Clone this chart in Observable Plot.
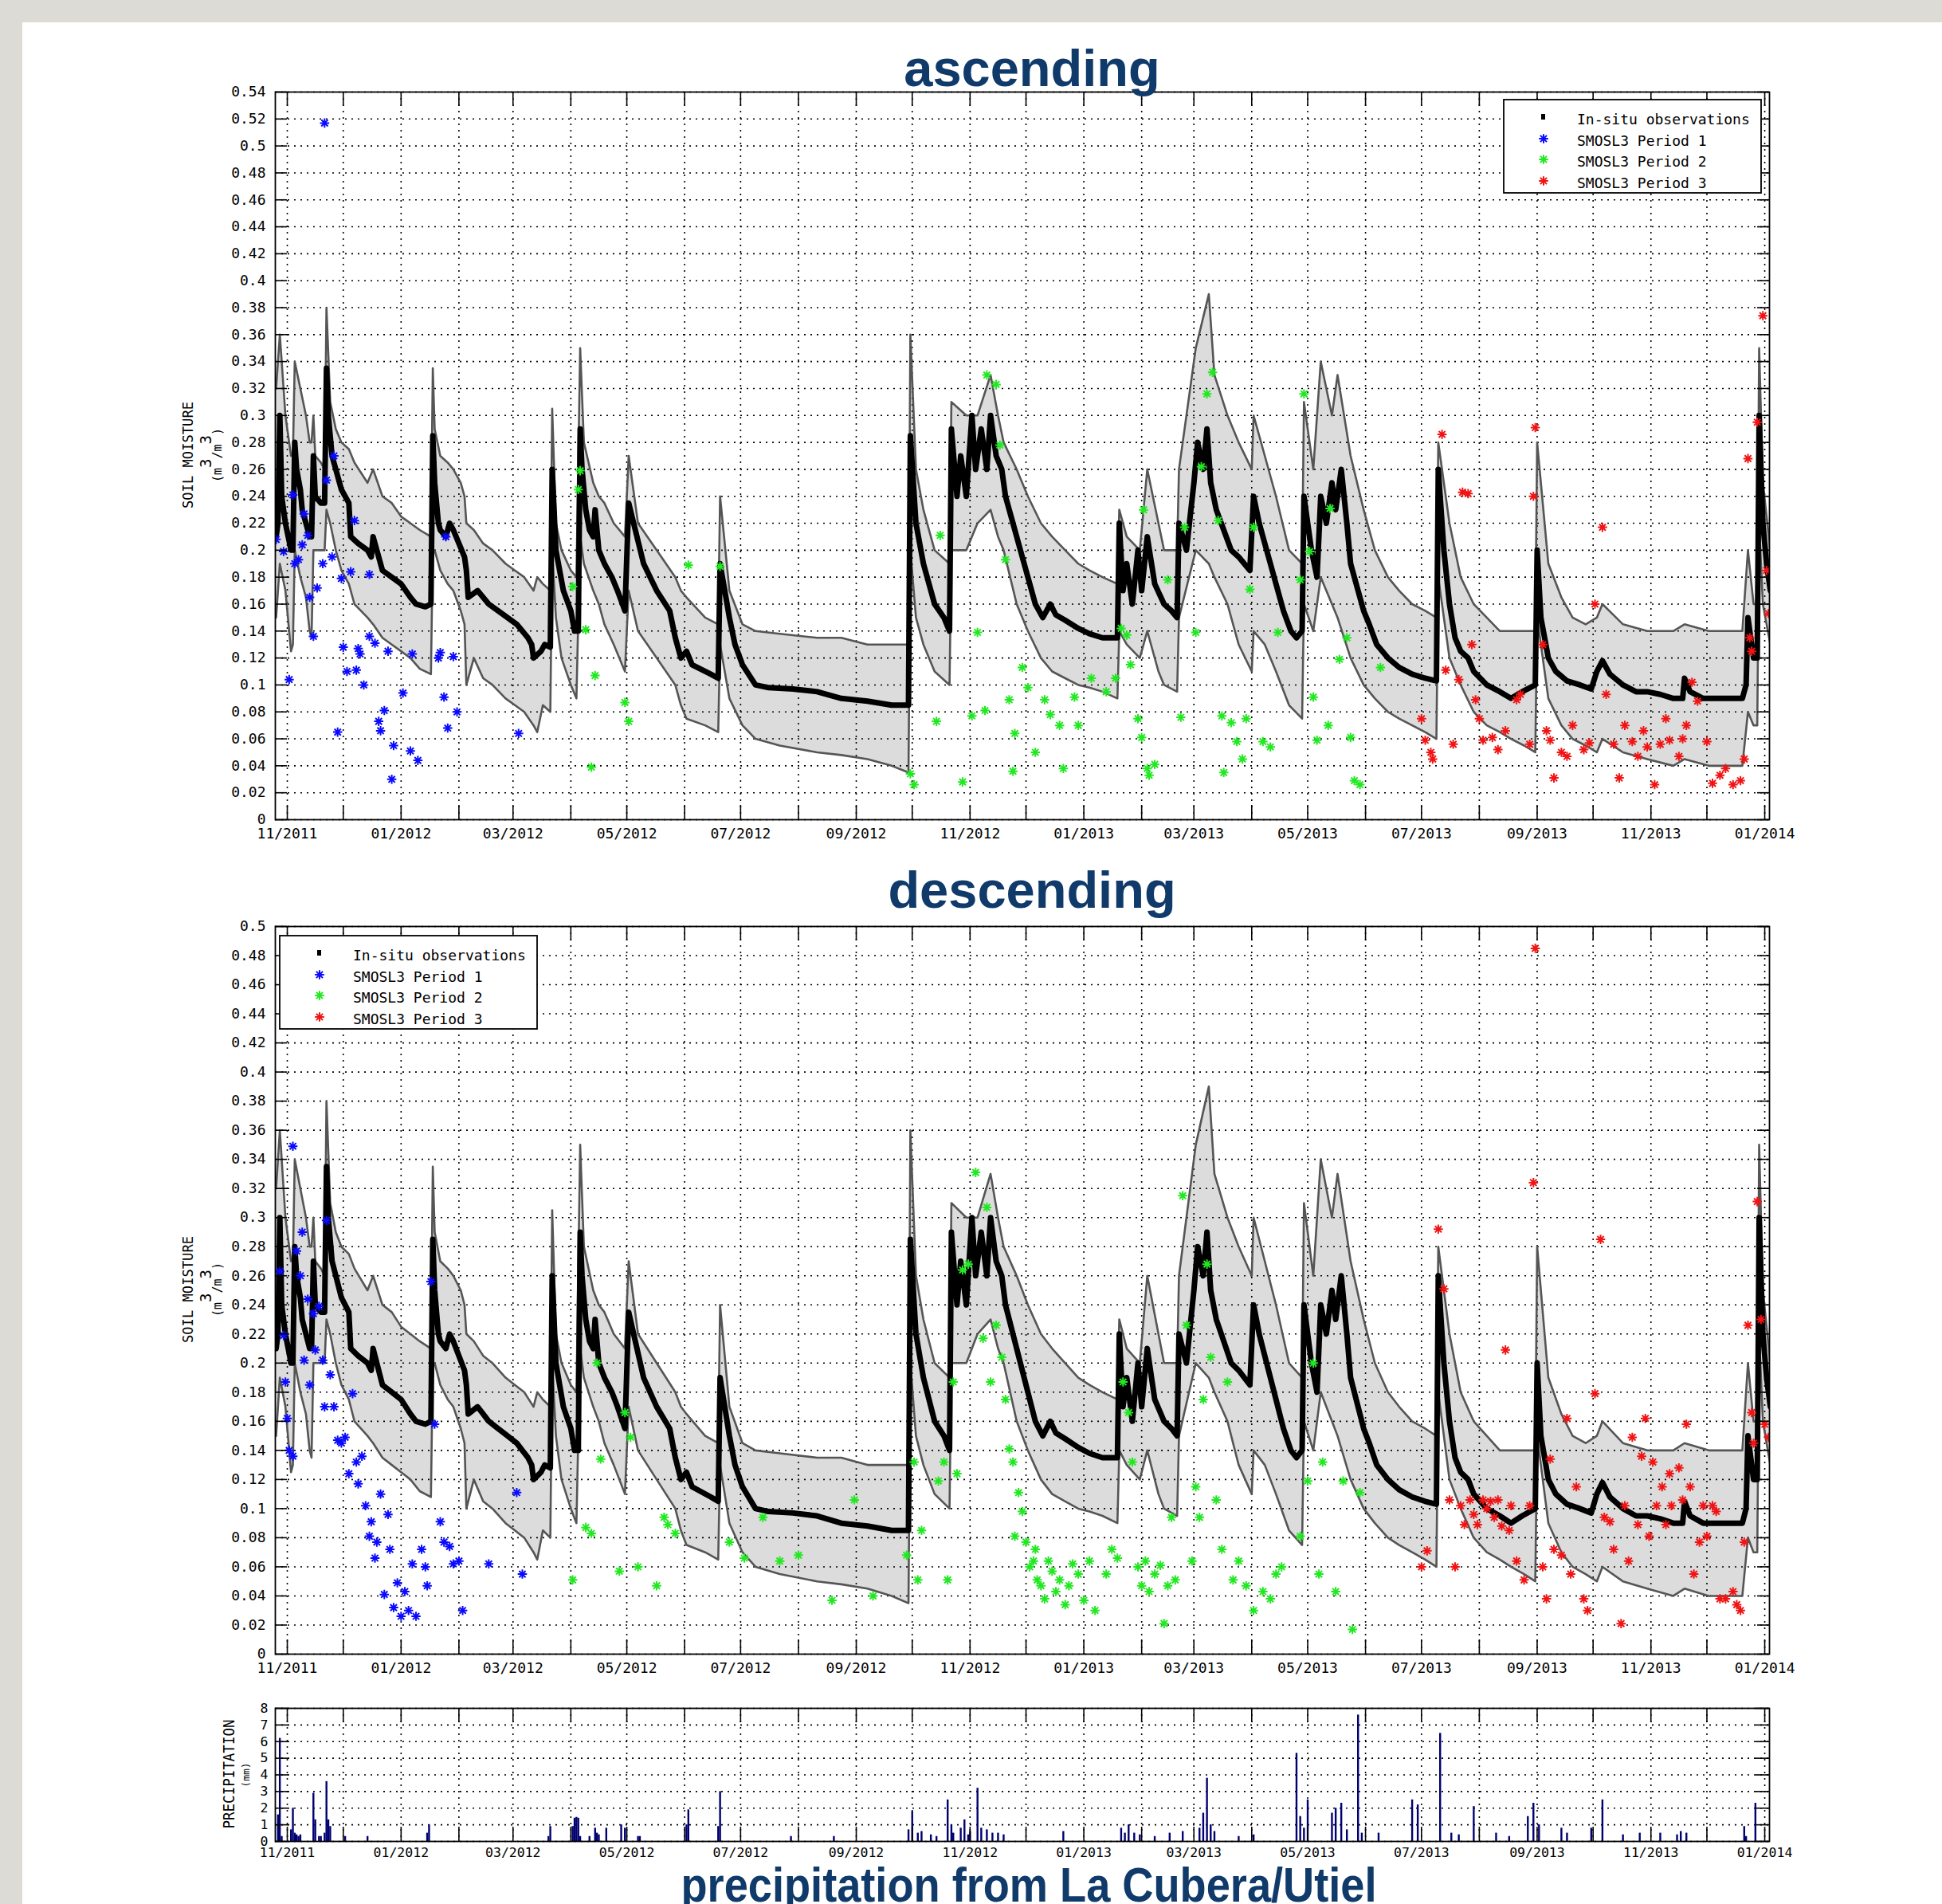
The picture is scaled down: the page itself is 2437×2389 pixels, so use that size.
<!DOCTYPE html>
<html><head><meta charset="utf-8">
<script src="https://cdn.jsdelivr.net/npm/d3@7"></script>
<script src="https://cdn.jsdelivr.net/npm/@observablehq/plot@0.6"></script>
<style>
html,body{margin:0;padding:0;background:#fff;overflow:hidden;}
#page{position:relative;width:2437px;height:2389px;background:#dcdbd6;overflow:hidden;}
#panel{position:absolute;left:28px;top:28px;right:0;bottom:0;background:#fff;}
#page svg{position:absolute;left:0;}
</style></head><body>
<div id="page"><div id="panel"></div></div>
<script>
// ---------------- DATA ----------------
const panelTitles = ["ascending", "descending", "precipitation from La Cubera/Utiel"];
const legendLabels = ["In-situ observations", "SMOSL3 Period 1", "SMOSL3 Period 2", "SMOSL3 Period 3"];
const yTitle = "SOIL MOISTURE", yUnits = ["(m", "3", "/m", "3", ")"];
const pTitle = "PRECIPITATION", pUnits = "(mm)";

const monthTicks = ["2011-11-01","2011-12-01","2012-01-01","2012-02-01","2012-03-01","2012-04-01","2012-05-01","2012-06-01","2012-07-01","2012-08-01","2012-09-01","2012-10-01","2012-11-01","2012-12-01","2013-01-01","2013-02-01","2013-03-01","2013-04-01","2013-05-01","2013-06-01","2013-07-01","2013-08-01","2013-09-01","2013-10-01","2013-11-01","2013-12-01","2014-01-01"];
const labelTicks = ["2011-11-01","2012-01-01","2012-03-01","2012-05-01","2012-07-01","2012-09-01","2012-11-01","2013-01-01","2013-03-01","2013-05-01","2013-07-01","2013-09-01","2013-11-01","2014-01-01"];
const yTicksAsc = [0,0.02,0.04,0.06,0.08,0.1,0.12,0.14,0.16,0.18,0.2,0.22,0.24,0.26,0.28,0.3,0.32,0.34,0.36,0.38,0.4,0.42,0.44,0.46,0.48,0.5,0.52,0.54];
const yTicksDesc = [0,0.02,0.04,0.06,0.08,0.1,0.12,0.14,0.16,0.18,0.2,0.22,0.24,0.26,0.28,0.3,0.32,0.34,0.36,0.38,0.4,0.42,0.44,0.46,0.48,0.5];
const yTicksPrecip = [0,1,2,3,4,5,6,7,8];
const xDomain = ["2011-10-25T14:00Z", "2014-01-03T13:00Z"];

// in-situ observations [date, m3/m3]
const insitu = [
["2011-10-26",0.21],["2011-10-27",0.22],["2011-10-28",0.30],["2011-10-29",0.24],["2011-10-31",0.22],["2011-11-03",0.20],["2011-11-04",0.20],["2011-11-05",0.28],["2011-11-06",0.26],["2011-11-08",0.245],["2011-11-09",0.23],["2011-11-11",0.22],["2011-11-13",0.21],["2011-11-14",0.21],["2011-11-15",0.27],["2011-11-16",0.24],["2011-11-19",0.235],["2011-11-21",0.235],["2011-11-22",0.335],["2011-11-23",0.30],["2011-11-25",0.27],["2011-11-27",0.26],["2011-11-30",0.245],["2011-12-04",0.235],["2011-12-05",0.21],["2011-12-09",0.205],["2011-12-14",0.20],["2011-12-16",0.195],["2011-12-17",0.21],["2011-12-19",0.20],["2011-12-22",0.185],["2011-12-27",0.18],["2012-01-01",0.175],["2012-01-06",0.165],["2012-01-09",0.16],["2012-01-14",0.158],["2012-01-17",0.16],["2012-01-18",0.285],["2012-01-19",0.25],["2012-01-21",0.22],["2012-01-22",0.215],["2012-01-25",0.21],["2012-01-27",0.22],["2012-01-29",0.215],["2012-02-01",0.205],["2012-02-04",0.195],["2012-02-05",0.185],["2012-02-06",0.165],["2012-02-11",0.17],["2012-02-14",0.165],["2012-02-17",0.16],["2012-02-22",0.155],["2012-02-27",0.15],["2012-03-03",0.145],["2012-03-06",0.14],["2012-03-09",0.135],["2012-03-11",0.13],["2012-03-12",0.12],["2012-03-16",0.125],["2012-03-18",0.13],["2012-03-21",0.128],["2012-03-22",0.26],["2012-03-24",0.20],["2012-03-28",0.17],["2012-04-01",0.155],["2012-04-03",0.14],["2012-04-05",0.14],["2012-04-06",0.29],["2012-04-07",0.26],["2012-04-09",0.23],["2012-04-11",0.215],["2012-04-13",0.21],["2012-04-14",0.23],["2012-04-16",0.20],["2012-04-19",0.19],["2012-04-23",0.18],["2012-04-26",0.17],["2012-04-30",0.155],["2012-05-02",0.235],["2012-05-10",0.19],["2012-05-17",0.17],["2012-05-24",0.155],["2012-05-27",0.135],["2012-05-30",0.12],["2012-06-02",0.125],["2012-06-05",0.115],["2012-06-15",0.108],["2012-06-19",0.105],["2012-06-20",0.19],["2012-06-25",0.15],["2012-06-28",0.13],["2012-07-02",0.115],["2012-07-09",0.10],["2012-07-16",0.098],["2012-07-29",0.097],["2012-08-11",0.095],["2012-08-24",0.09],["2012-09-07",0.088],["2012-09-20",0.085],["2012-09-29",0.085],["2012-09-30",0.285],["2012-10-03",0.22],["2012-10-07",0.19],["2012-10-13",0.16],["2012-10-18",0.15],["2012-10-21",0.14],["2012-10-22",0.29],["2012-10-25",0.24],["2012-10-27",0.27],["2012-10-30",0.24],["2012-11-02",0.30],["2012-11-04",0.26],["2012-11-07",0.29],["2012-11-10",0.26],["2012-11-12",0.30],["2012-11-15",0.27],["2012-11-18",0.26],["2012-11-20",0.24],["2012-11-24",0.22],["2012-11-28",0.20],["2012-12-02",0.18],["2012-12-06",0.16],["2012-12-10",0.15],["2012-12-14",0.16],["2012-12-17",0.152],["2012-12-22",0.148],["2012-12-29",0.142],["2013-01-04",0.138],["2013-01-11",0.135],["2013-01-19",0.135],["2013-01-20",0.22],["2013-01-22",0.17],["2013-01-24",0.19],["2013-01-27",0.16],["2013-01-30",0.20],["2013-02-01",0.17],["2013-02-04",0.21],["2013-02-08",0.175],["2013-02-13",0.16],["2013-02-17",0.155],["2013-02-20",0.15],["2013-02-21",0.22],["2013-02-25",0.20],["2013-03-01",0.25],["2013-03-03",0.28],["2013-03-06",0.26],["2013-03-08",0.29],["2013-03-10",0.25],["2013-03-13",0.23],["2013-03-17",0.215],["2013-03-21",0.20],["2013-03-25",0.195],["2013-03-31",0.185],["2013-04-02",0.24],["2013-04-05",0.22],["2013-04-09",0.20],["2013-04-14",0.175],["2013-04-18",0.155],["2013-04-22",0.14],["2013-04-25",0.135],["2013-04-28",0.14],["2013-04-29",0.24],["2013-05-03",0.20],["2013-05-06",0.18],["2013-05-08",0.24],["2013-05-11",0.22],["2013-05-14",0.25],["2013-05-16",0.23],["2013-05-19",0.26],["2013-05-22",0.22],["2013-05-24",0.19],["2013-05-28",0.17],["2013-05-31",0.155],["2013-06-03",0.145],["2013-06-07",0.13],["2013-06-13",0.12],["2013-06-19",0.113],["2013-06-26",0.108],["2013-07-03",0.105],["2013-07-09",0.103],["2013-07-10",0.26],["2013-07-13",0.20],["2013-07-16",0.16],["2013-07-19",0.135],["2013-07-22",0.125],["2013-07-26",0.12],["2013-07-29",0.11],["2013-08-05",0.10],["2013-08-12",0.095],["2013-08-18",0.09],["2013-08-24",0.095],["2013-08-31",0.10],["2013-09-01",0.20],["2013-09-03",0.15],["2013-09-07",0.12],["2013-09-11",0.11],["2013-09-17",0.103],["2013-09-24",0.10],["2013-09-30",0.097],["2013-10-03",0.11],["2013-10-06",0.118],["2013-10-10",0.108],["2013-10-17",0.10],["2013-10-24",0.095],["2013-10-30",0.095],["2013-11-06",0.093],["2013-11-13",0.09],["2013-11-18",0.09],["2013-11-19",0.105],["2013-11-22",0.095],["2013-11-29",0.09],["2013-12-10",0.09],["2013-12-20",0.09],["2013-12-22",0.10],["2013-12-23",0.15],["2013-12-26",0.12],["2013-12-28",0.12],["2013-12-29",0.30],["2013-12-31",0.22],["2014-01-02",0.19],["2014-01-04",0.17]
];

// range of in-situ sensors [date, low, high]
const band = [
["2011-10-26",0.15,0.32],["2011-10-28",0.19,0.36],["2011-10-31",0.17,0.30],["2011-11-03",0.125,0.27],["2011-11-04",0.13,0.27],["2011-11-05",0.20,0.34],["2011-11-08",0.18,0.32],["2011-11-11",0.165,0.30],["2011-11-13",0.14,0.28],["2011-11-14",0.135,0.28],["2011-11-15",0.20,0.30],["2011-11-16",0.20,0.27],["2011-11-19",0.20,0.265],["2011-11-21",0.20,0.26],["2011-11-22",0.23,0.38],["2011-11-24",0.22,0.31],["2011-11-27",0.20,0.29],["2011-11-30",0.185,0.28],["2011-12-04",0.175,0.275],["2011-12-07",0.16,0.265],["2011-12-14",0.15,0.25],["2011-12-17",0.145,0.26],["2011-12-22",0.135,0.24],["2011-12-27",0.13,0.235],["2012-01-01",0.125,0.225],["2012-01-06",0.12,0.22],["2012-01-11",0.112,0.215],["2012-01-17",0.108,0.21],["2012-01-18",0.20,0.335],["2012-01-19",0.20,0.29],["2012-01-22",0.185,0.27],["2012-01-26",0.175,0.265],["2012-01-29",0.17,0.26],["2012-02-02",0.155,0.25],["2012-02-04",0.145,0.24],["2012-02-05",0.10,0.22],["2012-02-09",0.12,0.215],["2012-02-14",0.105,0.205],["2012-02-19",0.10,0.20],["2012-02-26",0.09,0.19],["2012-03-02",0.085,0.185],["2012-03-07",0.08,0.18],["2012-03-12",0.07,0.17],["2012-03-14",0.065,0.18],["2012-03-17",0.085,0.175],["2012-03-21",0.08,0.17],["2012-03-22",0.20,0.305],["2012-03-24",0.15,0.22],["2012-03-27",0.12,0.20],["2012-04-01",0.10,0.185],["2012-04-04",0.09,0.18],["2012-04-06",0.21,0.35],["2012-04-08",0.19,0.28],["2012-04-13",0.17,0.25],["2012-04-16",0.16,0.24],["2012-04-19",0.145,0.235],["2012-04-24",0.13,0.22],["2012-04-30",0.11,0.21],["2012-05-02",0.17,0.27],["2012-05-07",0.14,0.22],["2012-05-17",0.12,0.20],["2012-05-27",0.10,0.18],["2012-05-30",0.085,0.17],["2012-06-02",0.075,0.165],["2012-06-12",0.07,0.15],["2012-06-19",0.065,0.145],["2012-06-20",0.13,0.24],["2012-06-25",0.09,0.17],["2012-07-02",0.07,0.145],["2012-07-09",0.06,0.14],["2012-07-22",0.055,0.138],["2012-08-11",0.05,0.135],["2012-08-24",0.048,0.135],["2012-09-07",0.045,0.13],["2012-09-20",0.04,0.13],["2012-09-29",0.035,0.13],["2012-09-30",0.20,0.36],["2012-10-03",0.15,0.26],["2012-10-07",0.13,0.23],["2012-10-13",0.11,0.20],["2012-10-21",0.10,0.19],["2012-10-22",0.20,0.31],["2012-10-30",0.20,0.30],["2012-11-05",0.22,0.30],["2012-11-12",0.23,0.33],["2012-11-16",0.21,0.30],["2012-11-19",0.20,0.28],["2012-11-26",0.16,0.26],["2012-12-02",0.14,0.24],["2012-12-09",0.12,0.22],["2012-12-15",0.11,0.21],["2012-12-22",0.105,0.20],["2012-12-29",0.10,0.19],["2013-01-04",0.098,0.185],["2013-01-11",0.095,0.18],["2013-01-19",0.09,0.175],["2013-01-20",0.14,0.23],["2013-01-24",0.13,0.21],["2013-01-31",0.12,0.20],["2013-02-04",0.14,0.26],["2013-02-10",0.11,0.22],["2013-02-13",0.10,0.20],["2013-02-20",0.095,0.20],["2013-02-21",0.15,0.26],["2013-03-02",0.20,0.35],["2013-03-09",0.19,0.39],["2013-03-12",0.18,0.33],["2013-03-19",0.16,0.30],["2013-03-25",0.13,0.28],["2013-04-01",0.11,0.26],["2013-04-02",0.14,0.30],["2013-04-08",0.13,0.27],["2013-04-14",0.11,0.24],["2013-04-21",0.085,0.20],["2013-04-28",0.075,0.19],["2013-04-29",0.16,0.31],["2013-05-04",0.14,0.26],["2013-05-08",0.18,0.34],["2013-05-14",0.16,0.30],["2013-05-17",0.15,0.33],["2013-05-24",0.12,0.27],["2013-05-31",0.10,0.23],["2013-06-06",0.09,0.20],["2013-06-13",0.08,0.18],["2013-06-19",0.075,0.17],["2013-06-26",0.07,0.16],["2013-07-03",0.065,0.155],["2013-07-09",0.06,0.15],["2013-07-10",0.18,0.28],["2013-07-16",0.12,0.22],["2013-07-22",0.10,0.18],["2013-07-29",0.08,0.16],["2013-08-05",0.07,0.15],["2013-08-12",0.065,0.14],["2013-08-18",0.06,0.14],["2013-08-25",0.055,0.14],["2013-08-31",0.05,0.14],["2013-09-01",0.15,0.28],["2013-09-07",0.09,0.19],["2013-09-14",0.07,0.165],["2013-09-20",0.06,0.15],["2013-09-27",0.055,0.145],["2013-10-03",0.05,0.15],["2013-10-06",0.06,0.16],["2013-10-17",0.05,0.145],["2013-10-30",0.045,0.14],["2013-11-13",0.04,0.14],["2013-11-19",0.045,0.145],["2013-12-02",0.04,0.14],["2013-12-20",0.04,0.14],["2013-12-23",0.08,0.20],["2013-12-26",0.07,0.16],["2013-12-28",0.07,0.16],["2013-12-29",0.22,0.35],["2013-12-31",0.16,0.25],["2014-01-04",0.13,0.20]
];

// SMOS L3 ascending
const ascP1 = [
["2011-10-26",0.208],["2011-10-30",0.199],["2011-11-02",0.104],["2011-11-04",0.241],["2011-11-05",0.19],["2011-11-07",0.193],["2011-11-09",0.204],["2011-11-10",0.227],["2011-11-12",0.211],["2011-11-13",0.165],["2011-11-15",0.136],["2011-11-17",0.172],["2011-11-20",0.19],["2011-11-21",0.517],["2011-11-22",0.252],["2011-11-25",0.195],["2011-11-26",0.27],["2011-11-28",0.065],["2011-11-30",0.179],["2011-12-01",0.128],["2011-12-03",0.11],["2011-12-05",0.184],["2011-12-07",0.222],["2011-12-08",0.111],["2011-12-09",0.127],["2011-12-10",0.123],["2011-12-12",0.10],["2011-12-15",0.182],["2011-12-15",0.136],["2011-12-18",0.131],["2011-12-20",0.073],["2011-12-21",0.066],["2011-12-23",0.081],["2011-12-25",0.125],["2011-12-27",0.03],["2011-12-28",0.055],["2012-01-02",0.094],["2012-01-06",0.051],["2012-01-07",0.123],["2012-01-10",0.044],["2012-01-21",0.12],["2012-01-22",0.124],["2012-01-24",0.091],["2012-01-25",0.21],["2012-01-26",0.068],["2012-01-29",0.121],["2012-01-31",0.08],["2012-03-04",0.064]
];
const ascP2 = [
["2012-04-02",0.173],["2012-04-05",0.245],["2012-04-06",0.259],["2012-04-09",0.141],["2012-04-12",0.039],["2012-04-14",0.107],["2012-04-30",0.087],["2012-05-02",0.073],["2012-06-03",0.189],["2012-06-20",0.188],["2012-09-30",0.034],["2012-10-02",0.026],["2012-10-14",0.073],["2012-10-16",0.211],["2012-10-28",0.028],["2012-11-02",0.077],["2012-11-05",0.139],["2012-11-09",0.081],["2012-11-10",0.33],["2012-11-15",0.323],["2012-11-17",0.278],["2012-11-20",0.193],["2012-11-22",0.089],["2012-11-24",0.036],["2012-11-25",0.064],["2012-11-29",0.113],["2012-12-02",0.098],["2012-12-06",0.05],["2012-12-11",0.089],["2012-12-14",0.078],["2012-12-19",0.07],["2012-12-21",0.038],["2012-12-27",0.091],["2012-12-29",0.07],["2013-01-05",0.105],["2013-01-13",0.095],["2013-01-18",0.105],["2013-01-21",0.142],["2013-01-24",0.137],["2013-01-26",0.115],["2013-01-30",0.075],["2013-02-01",0.061],["2013-02-02",0.23],["2013-02-04",0.038],["2013-02-05",0.033],["2013-02-08",0.041],["2013-02-15",0.178],["2013-02-22",0.076],["2013-02-24",0.217],["2013-03-02",0.139],["2013-03-05",0.262],["2013-03-08",0.316],["2013-03-11",0.332],["2013-03-14",0.222],["2013-03-16",0.077],["2013-03-17",0.035],["2013-03-21",0.072],["2013-03-24",0.058],["2013-03-27",0.045],["2013-03-29",0.075],["2013-03-31",0.171],["2013-04-02",0.217],["2013-04-07",0.058],["2013-04-11",0.054],["2013-04-15",0.139],["2013-04-27",0.178],["2013-04-29",0.316],["2013-05-02",0.199],["2013-05-04",0.091],["2013-05-06",0.059],["2013-05-12",0.07],["2013-05-13",0.231],["2013-05-18",0.119],["2013-05-22",0.135],["2013-05-24",0.061],["2013-05-26",0.029],["2013-05-29",0.026],["2013-06-09",0.113]
];
const ascP3 = [
["2013-07-01",0.075],["2013-07-03",0.059],["2013-07-06",0.05],["2013-07-07",0.045],["2013-07-12",0.286],["2013-07-14",0.111],["2013-07-18",0.056],["2013-07-21",0.104],["2013-07-23",0.243],["2013-07-26",0.242],["2013-07-28",0.13],["2013-07-30",0.089],["2013-08-01",0.075],["2013-08-03",0.059],["2013-08-08",0.061],["2013-08-11",0.052],["2013-08-15",0.066],["2013-08-21",0.089],["2013-08-23",0.093],["2013-08-28",0.056],["2013-08-30",0.24],["2013-08-31",0.291],["2013-09-04",0.13],["2013-09-06",0.066],["2013-09-08",0.059],["2013-09-10",0.031],["2013-09-14",0.05],["2013-09-17",0.047],["2013-09-20",0.07],["2013-09-26",0.052],["2013-09-29",0.057],["2013-10-02",0.16],["2013-10-06",0.217],["2013-10-08",0.093],["2013-10-12",0.056],["2013-10-15",0.031],["2013-10-18",0.07],["2013-10-22",0.058],["2013-10-25",0.047],["2013-10-28",0.066],["2013-10-30",0.054],["2013-11-03",0.026],["2013-11-06",0.056],["2013-11-09",0.075],["2013-11-11",0.059],["2013-11-16",0.047],["2013-11-18",0.06],["2013-11-20",0.07],["2013-11-23",0.102],["2013-11-26",0.088],["2013-12-01",0.058],["2013-12-04",0.027],["2013-12-08",0.033],["2013-12-11",0.038],["2013-12-15",0.026],["2013-12-19",0.029],["2013-12-21",0.045],["2013-12-23",0.268],["2013-12-24",0.135],["2013-12-25",0.125],["2013-12-28",0.295],["2013-12-31",0.374],["2014-01-02",0.185],["2014-01-03",0.153]
];

// SMOS L3 descending
const descP1 = [
["2011-10-28",0.263],["2011-10-30",0.219],["2011-10-31",0.187],["2011-11-01",0.162],["2011-11-02",0.14],["2011-11-04",0.136],["2011-11-04",0.349],["2011-11-06",0.277],["2011-11-08",0.26],["2011-11-09",0.29],["2011-11-10",0.202],["2011-11-12",0.244],["2011-11-13",0.185],["2011-11-15",0.234],["2011-11-16",0.209],["2011-11-18",0.239],["2011-11-20",0.202],["2011-11-21",0.17],["2011-11-22",0.298],["2011-11-24",0.192],["2011-11-26",0.17],["2011-11-28",0.147],["2011-11-30",0.145],["2011-12-02",0.149],["2011-12-04",0.124],["2011-12-06",0.179],["2011-12-08",0.132],["2011-12-09",0.117],["2011-12-11",0.136],["2011-12-13",0.102],["2011-12-15",0.081],["2011-12-16",0.091],["2011-12-18",0.066],["2011-12-19",0.077],["2011-12-21",0.11],["2011-12-23",0.041],["2011-12-25",0.096],["2011-12-26",0.072],["2011-12-28",0.032],["2011-12-30",0.049],["2012-01-01",0.026],["2012-01-03",0.043],["2012-01-05",0.03],["2012-01-07",0.062],["2012-01-09",0.026],["2012-01-12",0.072],["2012-01-14",0.06],["2012-01-15",0.047],["2012-01-17",0.256],["2012-01-19",0.158],["2012-01-22",0.091],["2012-01-24",0.077],["2012-01-27",0.074],["2012-01-29",0.062],["2012-02-01",0.064],["2012-02-03",0.03],["2012-02-17",0.062],["2012-03-03",0.111],["2012-03-06",0.055]
];
const descP2 = [
["2012-04-02",0.051],["2012-04-09",0.087],["2012-04-12",0.083],["2012-04-15",0.20],["2012-04-17",0.134],["2012-04-27",0.057],["2012-04-30",0.166],["2012-05-03",0.149],["2012-05-07",0.06],["2012-05-17",0.047],["2012-05-21",0.094],["2012-05-23",0.089],["2012-05-27",0.083],["2012-06-25",0.077],["2012-07-03",0.066],["2012-07-13",0.094],["2012-07-22",0.064],["2012-08-01",0.068],["2012-08-19",0.037],["2012-08-31",0.106],["2012-09-10",0.04],["2012-09-28",0.068],["2012-10-02",0.132],["2012-10-04",0.051],["2012-10-06",0.085],["2012-10-15",0.119],["2012-10-18",0.132],["2012-10-20",0.051],["2012-10-23",0.187],["2012-10-25",0.124],["2012-10-28",0.264],["2012-10-31",0.268],["2012-11-04",0.331],["2012-11-08",0.217],["2012-11-10",0.307],["2012-11-12",0.187],["2012-11-15",0.226],["2012-11-18",0.204],["2012-11-20",0.175],["2012-11-22",0.141],["2012-11-24",0.132],["2012-11-25",0.081],["2012-11-27",0.111],["2012-11-29",0.098],["2012-12-01",0.077],["2012-12-03",0.06],["2012-12-05",0.064],["2012-12-06",0.072],["2012-12-07",0.051],["2012-12-09",0.047],["2012-12-11",0.038],["2012-12-13",0.064],["2012-12-15",0.057],["2012-12-17",0.043],["2012-12-19",0.051],["2012-12-22",0.034],["2012-12-24",0.047],["2012-12-26",0.062],["2012-12-29",0.055],["2013-01-01",0.037],["2013-01-04",0.064],["2013-01-07",0.03],["2013-01-13",0.055],["2013-01-16",0.072],["2013-01-19",0.066],["2013-01-22",0.187],["2013-01-25",0.166],["2013-01-27",0.132],["2013-01-30",0.06],["2013-02-01",0.047],["2013-02-03",0.064],["2013-02-05",0.043],["2013-02-08",0.055],["2013-02-11",0.061],["2013-02-13",0.021],["2013-02-15",0.047],["2013-02-17",0.094],["2013-02-19",0.051],["2013-02-23",0.315],["2013-02-25",0.226],["2013-02-28",0.064],["2013-03-02",0.115],["2013-03-04",0.094],["2013-03-06",0.175],["2013-03-08",0.268],["2013-03-10",0.204],["2013-03-13",0.106],["2013-03-16",0.072],["2013-03-19",0.187],["2013-03-22",0.051],["2013-03-25",0.064],["2013-03-29",0.047],["2013-04-02",0.03],["2013-04-07",0.043],["2013-04-11",0.038],["2013-04-14",0.055],["2013-04-17",0.06],["2013-04-27",0.081],["2013-05-01",0.119],["2013-05-04",0.20],["2013-05-07",0.055],["2013-05-09",0.132],["2013-05-16",0.043],["2013-05-20",0.119],["2013-05-25",0.017],["2013-05-29",0.111]
];
const descP3 = [
["2013-07-01",0.06],["2013-07-04",0.071],["2013-07-10",0.292],["2013-07-13",0.251],["2013-07-16",0.106],["2013-07-19",0.06],["2013-07-22",0.102],["2013-07-24",0.089],["2013-07-27",0.106],["2013-07-29",0.096],["2013-07-31",0.089],["2013-08-03",0.106],["2013-08-05",0.10],["2013-08-07",0.105],["2013-08-09",0.094],["2013-08-11",0.106],["2013-08-13",0.088],["2013-08-15",0.209],["2013-08-17",0.085],["2013-08-18",0.102],["2013-08-21",0.064],["2013-08-25",0.051],["2013-08-28",0.102],["2013-08-30",0.324],["2013-08-31",0.485],["2013-09-04",0.06],["2013-09-06",0.038],["2013-09-08",0.134],["2013-09-10",0.072],["2013-09-14",0.068],["2013-09-17",0.162],["2013-09-19",0.055],["2013-09-22",0.115],["2013-09-26",0.038],["2013-09-28",0.03],["2013-10-02",0.179],["2013-10-05",0.285],["2013-10-07",0.094],["2013-10-10",0.091],["2013-10-12",0.072],["2013-10-16",0.021],["2013-10-18",0.102],["2013-10-20",0.064],["2013-10-22",0.149],["2013-10-25",0.089],["2013-10-27",0.136],["2013-10-29",0.162],["2013-10-31",0.081],["2013-11-02",0.132],["2013-11-04",0.102],["2013-11-07",0.115],["2013-11-09",0.089],["2013-11-11",0.124],["2013-11-12",0.102],["2013-11-16",0.128],["2013-11-18",0.106],["2013-11-20",0.158],["2013-11-22",0.115],["2013-11-24",0.055],["2013-11-27",0.077],["2013-11-29",0.102],["2013-12-01",0.081],["2013-12-04",0.102],["2013-12-06",0.098],["2013-12-08",0.038],["2013-12-11",0.038],["2013-12-15",0.043],["2013-12-17",0.034],["2013-12-19",0.03],["2013-12-21",0.077],["2013-12-23",0.226],["2013-12-25",0.166],["2013-12-26",0.145],["2013-12-28",0.311],["2013-12-30",0.23],["2014-01-01",0.158],["2014-01-03",0.149]
];

// daily precipitation [date, mm]
const precip = [
["2011-10-27",1.6],["2011-10-28",6.2],["2011-10-29",0.3],["2011-11-03",0.7],["2011-11-04",2.0],["2011-11-05",0.5],["2011-11-06",0.4],["2011-11-07",0.3],["2011-11-08",0.4],["2011-11-15",2.9],["2011-11-16",1.3],["2011-11-18",0.3],["2011-11-19",0.3],["2011-11-21",0.5],["2011-11-22",3.6],["2011-11-23",1.3],["2011-11-24",0.9],["2011-12-02",0.3],["2011-12-14",0.3],["2012-01-15",0.5],["2012-01-16",1.0],["2012-03-20",0.3],["2012-03-21",0.9],["2012-04-02",0.9],["2012-04-03",1.4],["2012-04-04",1.45],["2012-04-05",1.4],["2012-04-06",0.3],["2012-04-11",0.3],["2012-04-14",0.8],["2012-04-15",0.5],["2012-04-16",0.4],["2012-04-20",0.8],["2012-04-28",1.0],["2012-04-30",0.8],["2012-05-07",0.3],["2012-05-08",0.3],["2012-06-02",1.0],["2012-06-03",1.9],["2012-06-19",0.9],["2012-06-20",3.0],["2012-07-28",0.3],["2012-08-20",0.3],["2012-09-29",0.7],["2012-10-01",1.8],["2012-10-04",0.5],["2012-10-06",0.6],["2012-10-11",0.4],["2012-10-14",0.3],["2012-10-20",2.5],["2012-10-22",1.0],["2012-10-23",0.5],["2012-10-27",0.8],["2012-10-29",1.3],["2012-10-31",0.4],["2012-11-01",0.6],["2012-11-05",3.2],["2012-11-07",0.8],["2012-11-10",0.7],["2012-11-13",0.5],["2012-11-16",0.5],["2012-11-19",0.4],["2012-12-21",0.6],["2013-01-21",0.8],["2013-01-23",0.5],["2013-01-25",1.0],["2013-01-28",0.5],["2013-01-31",0.4],["2013-02-08",0.3],["2013-02-16",0.5],["2013-02-23",0.6],["2013-03-04",0.8],["2013-03-06",1.7],["2013-03-08",3.8],["2013-03-10",1.0],["2013-03-12",0.6],["2013-03-25",0.3],["2013-04-02",0.4],["2013-04-25",5.3],["2013-04-27",1.5],["2013-04-29",0.8],["2013-05-01",2.5],["2013-05-14",1.7],["2013-05-16",2.0],["2013-05-19",2.3],["2013-05-22",0.7],["2013-05-28",7.6],["2013-05-30",0.5],["2013-06-08",0.5],["2013-06-26",2.5],["2013-06-29",2.2],["2013-07-11",6.5],["2013-07-17",0.5],["2013-07-21",0.4],["2013-07-29",2.1],["2013-08-10",0.5],["2013-08-17",0.3],["2013-08-27",1.5],["2013-08-30",2.3],["2013-09-02",1.0],["2013-09-14",0.8],["2013-09-17",0.5],["2013-09-30",0.8],["2013-10-06",2.5],["2013-10-17",0.4],["2013-10-26",0.5],["2013-11-06",0.5],["2013-11-15",0.4],["2013-11-17",0.6],["2013-11-20",0.5],["2013-12-21",0.9],["2013-12-22",0.3],["2013-12-27",2.3]
];

// ---------------- STYLE / HELPERS ----------------
const COL = {p1: "#0a0aff", p2: "#22e822", p3: "#f01414", bar: "#000070", band: "#dcdcdc", edge: "#555555", title: "#0f3a6a"};
const asterisk8 = {draw(ctx, size) {
  const r = Math.sqrt(size / Math.PI), d = r * Math.SQRT1_2;
  ctx.moveTo(-r, 0); ctx.lineTo(r, 0);
  ctx.moveTo(0, -r); ctx.lineTo(0, r);
  ctx.moveTo(-d, -d); ctx.lineTo(d, d);
  ctx.moveTo(-d, d); ctx.lineTo(d, -d);
}};
const pt = a => a.map(([d, v]) => ({date: new Date(d), v}));
const bandRows = band.map(([d, lo, hi]) => ({date: new Date(d), lo, hi}));
const insituRows = pt(insitu);
const precipRows = pt(precip);
const months = monthTicks.map(d => new Date(d));
const labels = labelTicks.map(d => new Date(d));
const dom = xDomain.map(d => new Date(d));
const ML = 345, MR = 217, W = 2437 - ML - MR;
const page = document.getElementById("page");
const grid = {stroke: "#000", strokeOpacity: 1, strokeWidth: 1.6, strokeDasharray: "2,6"};
const tickStyle = {stroke: "#000", strokeWidth: 1.6};

function soilPanel(top, yTicks, p1, p2, p3) {
  const H = 913, mt = 20, mb = 60;
  const dotOpts = c => ({x: "date", y: "v", symbol: asterisk8, r: 5.8, fill: "none", stroke: c, strokeWidth: 2, clip: true});
  const svg = Plot.plot({
    width: 2437, height: mt + H + mb, marginLeft: ML, marginRight: MR, marginTop: mt, marginBottom: mb,
    x: {type: "utc", domain: dom},
    y: {domain: [yTicks[0], yTicks[yTicks.length - 1]]},
    style: {background: "transparent", fontFamily: "'DejaVu Sans Mono', monospace", fontSize: "18px", color: "#000", maxWidth: "none", overflow: "visible"},
    marks: [
      Plot.areaY(bandRows, {x: "date", y1: "lo", y2: "hi", fill: COL.band, clip: true}),
      Plot.gridX(months, grid),
      Plot.gridY(yTicks, grid),
      Plot.line(bandRows, {x: "date", y: "hi", stroke: COL.edge, strokeWidth: 2.6, clip: true}),
      Plot.line(bandRows, {x: "date", y: "lo", stroke: COL.edge, strokeWidth: 2.6, clip: true}),
      Plot.line(insituRows, {x: "date", y: "v", stroke: "#000", strokeWidth: 7, strokeLinejoin: "round", clip: true}),
      Plot.dot(pt(p1), dotOpts(COL.p1)),
      Plot.dot(pt(p2), dotOpts(COL.p2)),
      Plot.dot(pt(p3), dotOpts(COL.p3)),
      Plot.ruleX(months, {...tickStyle, insetTop: H - 18}),
      Plot.ruleX(months, {...tickStyle, insetBottom: H - 18}),
      Plot.ruleY(yTicks, {...tickStyle, insetRight: W - 15}),
      Plot.ruleY(yTicks, {...tickStyle, insetLeft: W - 15}),
      Plot.frame({stroke: "#000", strokeWidth: 1.8}),
      Plot.axisX(labels, {tickSize: 0, tickPadding: 11, tickFormat: d3.utcFormat("%m/%Y"), label: null}),
      Plot.axisY(yTicks, {tickSize: 0, tickPadding: 12, tickFormat: d3.format("~g"), label: null})
    ]
  });
  svg.style.top = (top - mt) + "px";
  page.appendChild(svg);
}

soilPanel(115, yTicksAsc, ascP1, ascP2, ascP3);
soilPanel(1162, yTicksDesc, descP1, descP2, descP3);

(function precipPanel() {
  const top = 2143, H = 167, mt = 20, mb = 40;
  const svg = Plot.plot({
    width: 2437, height: mt + H + mb, marginLeft: ML, marginRight: MR, marginTop: mt, marginBottom: mb,
    x: {type: "utc", domain: dom},
    y: {domain: [0, 8]},
    style: {background: "transparent", fontFamily: "'DejaVu Sans Mono', monospace", fontSize: "16.5px", color: "#000", maxWidth: "none", overflow: "visible"},
    marks: [
      Plot.gridX(months, grid),
      Plot.gridY(yTicksPrecip, grid),
      Plot.ruleX(precipRows, {x: "date", y1: 0, y2: "v", stroke: COL.bar, strokeWidth: 2.4, clip: true}),
      Plot.ruleX(months, {...tickStyle, insetTop: H - 18}),
      Plot.ruleX(months, {...tickStyle, insetBottom: H - 18}),
      Plot.ruleY(yTicksPrecip, {...tickStyle, insetRight: W - 17}),
      Plot.ruleY(yTicksPrecip, {...tickStyle, insetLeft: W - 17}),
      Plot.frame({stroke: "#000", strokeWidth: 1.8}),
      Plot.axisX(labels, {tickSize: 0, tickPadding: 8, tickFormat: d3.utcFormat("%m/%Y"), label: null}),
      Plot.axisY(yTicksPrecip, {tickSize: 0, tickPadding: 9, label: null})
    ]
  });
  svg.style.top = (top - mt) + "px";
  page.appendChild(svg);
})();

// ---------------- OVERLAY: titles, axis titles, legends ----------------
const ov = d3.select(page).append("svg").attr("width", 2437).attr("height", 2389).style("top", "0px").style("pointer-events", "none");
const tFont = "'Liberation Sans', Arial, Helvetica, sans-serif";
function title(txt, x, y, size, len) {
  const t = ov.append("text").attr("x", x).attr("y", y).attr("text-anchor", "middle")
    .attr("font-family", tFont).attr("font-weight", "bold").attr("font-size", size).attr("fill", COL.title).text(txt);
  if (len) t.attr("textLength", len).attr("lengthAdjust", "spacingAndGlyphs");
}
title(panelTitles[0], 1295, 108, 65);
title(panelTitles[1], 1295, 1139, 65);
title(panelTitles[2], 1291, 2386, 62, 873);

const mono = "'DejaVu Sans Mono', monospace";
function yAxisTitle(cy) {
  ov.append("text").attr("transform", `translate(236,${cy}) rotate(-90)`).attr("text-anchor", "middle")
    .attr("font-family", mono).attr("font-size", 18).attr("dy", "0.35em")
    .attr("textLength", 134).attr("lengthAdjust", "spacingAndGlyphs").text(yTitle);
  const u = ov.append("text").attr("transform", `translate(273,${cy}) rotate(-90)`).attr("text-anchor", "middle")
    .attr("font-family", mono).attr("font-size", 15).attr("dy", "0.35em");
  u.append("tspan").text(yUnits[0]);
  u.append("tspan").attr("font-size", 19).attr("dy", -13).text(yUnits[1]);
  u.append("tspan").attr("dy", 13).text(yUnits[2]);
  u.append("tspan").attr("font-size", 19).attr("dy", -13).text(yUnits[3]);
  u.append("tspan").attr("dy", 13).text(yUnits[4]);
}
yAxisTitle(571);
yAxisTitle(1618);
ov.append("text").attr("transform", "translate(287,2226) rotate(-90)").attr("text-anchor", "middle")
  .attr("font-family", mono).attr("font-size", 20).attr("dy", "0.35em")
  .attr("textLength", 137).attr("lengthAdjust", "spacingAndGlyphs").text(pTitle);
ov.append("text").attr("transform", "translate(308,2227) rotate(-90)").attr("text-anchor", "middle")
  .attr("font-family", mono).attr("font-size", 13).attr("dy", "0.35em").text(pUnits);

function asteriskPath(r) { const p = d3.path(); asterisk8.draw(p, Math.PI * r * r); return p.toString(); }
function legend(x0, y0) {
  const g = ov.append("g").attr("transform", `translate(${x0},${y0})`);
  g.append("rect").attr("width", 323).attr("height", 117).attr("fill", "#fff").attr("stroke", "#000").attr("stroke-width", 1.8);
  const rows = [25, 52, 78, 105], cols = ["#000", COL.p1, COL.p2, COL.p3];
  rows.forEach((ry, i) => {
    if (i === 0) g.append("rect").attr("x", 47).attr("y", ry - 7).attr("width", 5).attr("height", 7).attr("fill", "#000");
    else g.append("path").attr("transform", `translate(50,${ry - 3})`).attr("d", asteriskPath(5.8)).attr("fill", "none").attr("stroke", cols[i]).attr("stroke-width", 2);
    g.append("text").attr("x", 92).attr("y", ry).attr("dy", "0.35em").attr("font-family", mono).attr("font-size", 18).text(legendLabels[i]);
  });
}
legend(1887, 125);
legend(351, 1174);
</script>
</body></html>
